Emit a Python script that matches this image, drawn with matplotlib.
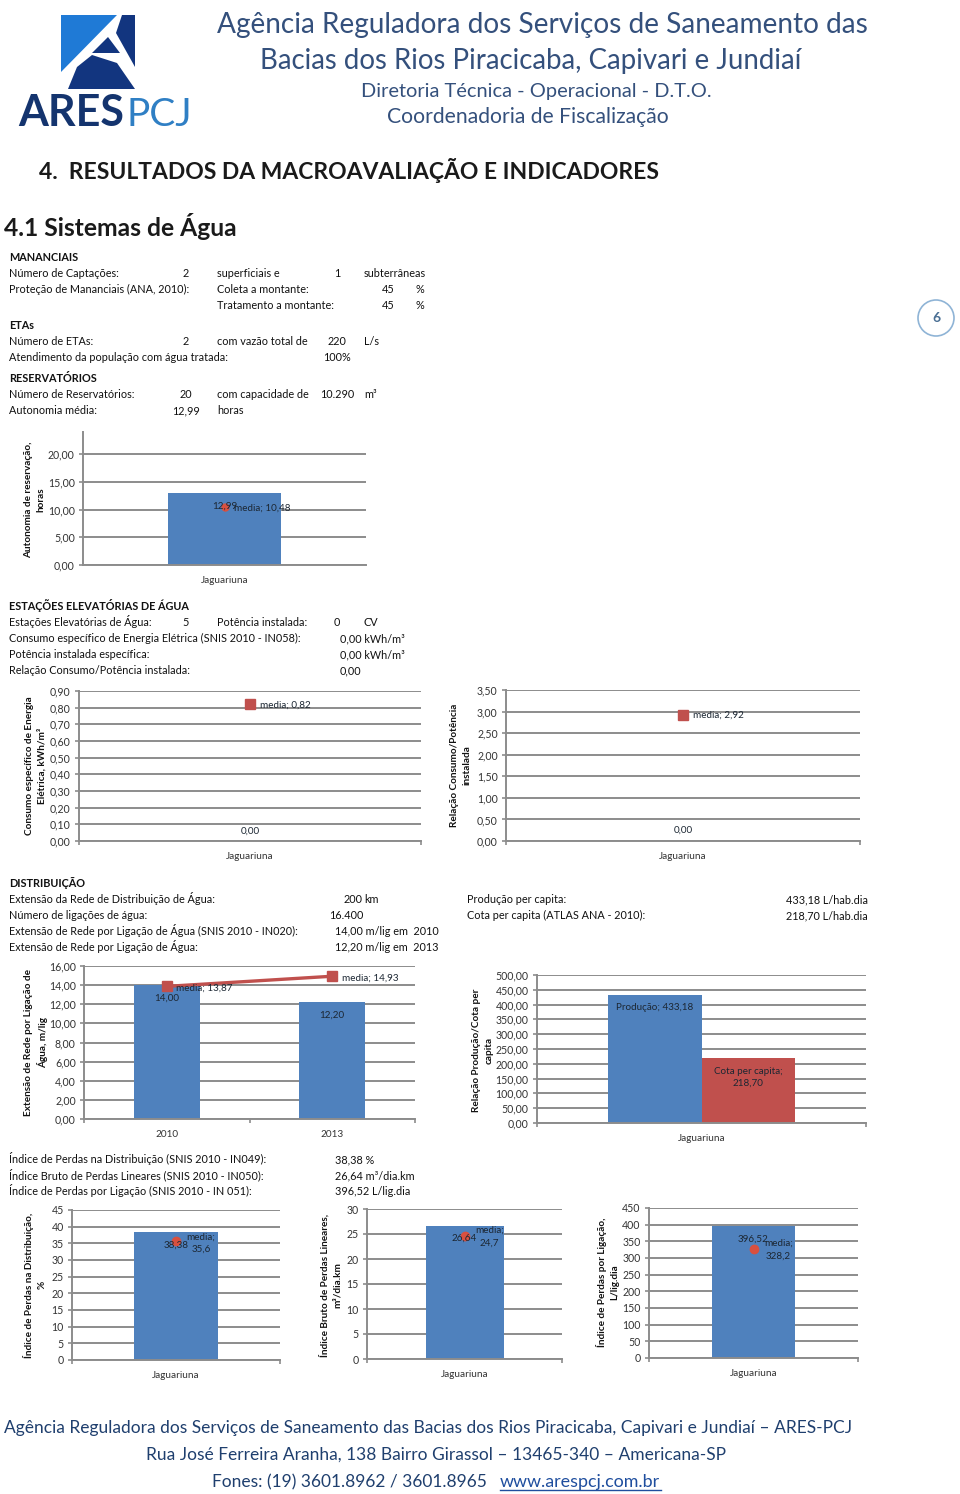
import matplotlib
matplotlib.use('Agg')
import matplotlib.pyplot as plt
from matplotlib.patches import Polygon, Circle

plt.rcParams['font.family'] = ['Lato', 'DejaVu Sans']

W, H = 960, 1494
BLUE = '#4f81bd'
RED = '#c0504d'
GRID = '#8c8c8c'
TICK = '#333333'

# values
autonomia_ticks = [0, 5, 10, 15, 20]
autonomia = [12.99]
autonomia_media = [10.48]

consumo_ticks = [0, .1, .2, .3, .4, .5, .6, .7, .8, .9]
consumo = [0.0]
consumo_media = [0.82]

relacao_ticks = [0, .5, 1, 1.5, 2, 2.5, 3, 3.5]
relacao = [0.0]
relacao_media = [2.92]

extensao_years = ['2010', '2013']
extensao_ticks = [0, 2, 4, 6, 8, 10, 12, 14, 16]
extensao = [14.00, 12.20]
extensao_media = [13.87, 14.93]

producao_ticks = [0, 50, 100, 150, 200, 250, 300, 350, 400, 450, 500]
producao = [433.18]
cota = [218.70]

perdas_dist_ticks = [0, 5, 10, 15, 20, 25, 30, 35, 40, 45]
perdas_dist = [38.38]
perdas_dist_media = [35.6]

perdas_lin_ticks = [0, 5, 10, 15, 20, 25, 30]
perdas_lin = [26.64]
perdas_lin_media = [24.7]

perdas_lig_ticks = [0, 50, 100, 150, 200, 250, 300, 350, 400, 450]
perdas_lig = [396.52]
perdas_lig_media = [328.2]

# text of the report, (x, y, text, align)
bold_rows = [(9, 257, 'MANANCIAIS'), (9, 325, 'ETAs'), (9, 378, 'RESERVATÓRIOS'),
             (9, 606, 'ESTAÇÕES ELEVATÓRIAS DE ÁGUA'), (9, 883, 'DISTRIBUIÇÃO')]
rows = [
    (9, 273, 'Número de Captações:', 'left'), (186, 273, '2', 'center'),
    (217, 273, 'superficiais e', 'left'), (337, 273, '1', 'center'), (364, 273, 'subterrâneas', 'left'),
    (9, 289, 'Proteção de Mananciais (ANA, 2010):', 'left'), (217, 289, 'Coleta a montante:', 'left'),
    (388, 289, '45', 'center'), (415, 289, '%', 'left'),
    (217, 305, 'Tratamento a montante:', 'left'), (388, 305, '45', 'center'), (415, 305, '%', 'left'),
    (9, 341, 'Número de ETAs:', 'left'), (186, 341, '2', 'center'), (217, 341, 'com vazão total de', 'left'),
    (337, 341, '220', 'center'), (364, 341, 'L/s', 'left'),
    (9, 357, 'Atendimento da população com água tratada:', 'left'), (337, 357, '100%', 'center'),
    (9, 394, 'Número de Reservatórios:', 'left'), (186, 394, '20', 'center'),
    (217, 394, 'com capacidade de', 'left'), (337, 394, '10.290', 'center'), (364, 394, 'm³', 'left'),
    (9, 410, 'Autonomia média:', 'left'), (186, 410, '12,99', 'center'), (217, 410, 'horas', 'left'),
    (9, 622, 'Estações Elevatórias de Água:', 'left'), (186, 622, '5', 'center'),
    (217, 622, 'Potência instalada:', 'left'), (337, 622, '0', 'center'), (364, 622, 'CV', 'left'),
    (9, 638, 'Consumo específico de Energia Elétrica (SNIS 2010 - IN058):', 'left'), (340, 638, '0,00 kWh/m³', 'left'),
    (9, 654, 'Potência instalada específica:', 'left'), (340, 654, '0,00 kWh/m³', 'left'),
    (9, 670, 'Relação Consumo/Potência instalada:', 'left'), (340, 670, '0,00', 'left'),
    (9, 899, 'Extensão da Rede de Distribuição de Água:', 'left'), (344, 899, '200', 'left'), (364, 899, 'km', 'left'),
    (9, 915, 'Número de ligações de água:', 'left'), (329, 915, '16.400', 'left'),
    (9, 931, 'Extensão de Rede por Ligação de Água (SNIS 2010 - IN020):', 'left'), (335, 931, '14,00 m/lig em  2010', 'left'),
    (9, 947, 'Extensão de Rede por Ligação de Água:', 'left'), (335, 947, '12,20 m/lig em  2013', 'left'),
    (467, 899, 'Produção per capita:', 'left'), (868, 899, '433,18 L/hab.dia', 'right'),
    (467, 915, 'Cota per capita (ATLAS ANA - 2010):', 'left'), (868, 915, '218,70 L/hab.dia', 'right'),
    (9, 1159, 'Índice de Perdas na Distribuição (SNIS 2010 - IN049):', 'left'), (335, 1159, '38,38 %', 'left'),
    (9, 1175, 'Índice Bruto de Perdas Lineares (SNIS 2010 - IN050):', 'left'), (335, 1175, '26,64 m³/dia.km', 'left'),
    (9, 1191, 'Índice de Perdas por Ligação (SNIS 2010 - IN 051):', 'left'), (335, 1191, '396,52 L/lig.dia', 'left'),
]


def br(v, dec):
    return f'{v:.{dec}f}'.replace('.', ',')


def make_axes(fig, left, right, bottom, top, ymax, ticks, dec, cats, end_ticks=True, xpad=8):
    ax = fig.add_axes([left / W, 1 - bottom / H, (right - left) / W, (bottom - top) / H])
    ax.patch.set_alpha(0)
    ax.set_xlim(-0.5, len(cats) - 0.5)
    ax.set_ylim(0, ymax)
    ax.set_yticks(ticks)
    ax.set_yticklabels([br(t, dec) for t in ticks], fontsize=7.6, color=TICK)
    ax.set_xticks(range(len(cats)))
    ax.set_xticklabels(cats, fontsize=7.2, color=TICK)
    ax.tick_params(axis='x', length=0, pad=xpad)
    ax.tick_params(axis='y', length=3, width=1.2, color=GRID, pad=3)
    if end_ticks:
        ax.set_xticks([i - 0.5 for i in range(len(cats) + 1)], minor=True)
        ax.tick_params(axis='x', which='minor', length=3, width=1.2, color=GRID)
    ax.grid(axis='y', color=GRID, lw=1.4, zorder=0)
    ax.set_axisbelow(True)
    for s in ['top', 'right']:
        ax.spines[s].set_visible(False)
    for s in ['left', 'bottom']:
        ax.spines[s].set_color(GRID)
        ax.spines[s].set_linewidth(1.4)
    return ax


def label(ax, txt, x, y, dx, dy):
    ax.annotate(txt, (x, y), xytext=(dx, -dy), textcoords='offset pixels', ha='center', va='center',
                fontsize=7.1, color='#1c2733', linespacing=1.5, zorder=6, annotation_clip=False)


def main():
    fig = plt.figure(figsize=(W / 100, H / 100), dpi=100)
    page = fig.add_axes([0, 0, 1, 1])
    page.set_xlim(0, W)
    page.set_ylim(H, 0)
    page.axis('off')

    # logo
    page.add_patch(Polygon([(61, 15), (117, 15), (61, 72)], color='#1f7ad6', lw=0))
    page.add_patch(Polygon([(122, 15), (135, 15), (135, 67), (116, 33)], color='#12357f', lw=0))
    page.add_patch(Polygon([(108, 37), (92, 53), (120, 53)], color='#12357f', lw=0))
    page.add_patch(Polygon([(68, 89), (135, 89), (117, 63), (92, 55), (77, 67)], color='#12357f', lw=0))
    page.text(18, 126, 'ARES', fontsize=31, fontweight='bold', color='#14346e', va='baseline', ha='left')
    page.text(126, 126, 'PCJ', fontsize=28, color='#2f7fc4', va='baseline', ha='left')

    # header
    hc = '#34507c'
    page.text(542, 25, 'Agência Reguladora dos Serviços de Saneamento das', fontsize=20.2, color=hc, ha='center', va='center')
    page.text(531, 61, 'Bacias dos Rios Piracicaba, Capivari e Jundiaí', fontsize=19.9, color=hc, ha='center', va='center')
    page.text(536, 92, 'Diretoria Técnica - Operacional - D.T.O.', fontsize=14.4, color=hc, ha='center', va='center')
    page.text(528, 117, 'Coordenadoria de Fiscalização', fontsize=15.2, color=hc, ha='center', va='center')

    page.text(39, 179, '4.  RESULTADOS DA MACROAVALIAÇÃO E INDICADORES', fontsize=16.5, fontweight='bold', color='#1a1a1a')
    page.text(4, 236, '4.1 Sistemas de Água', fontsize=17.7, fontweight='bold', color='#1a1a1a')

    for x, y, t in bold_rows:
        page.text(x, y + 4, t, fontsize=7.8, fontweight='bold', color='#111111')
    for x, y, t, al in rows:
        page.text(x, y + 4, t, fontsize=7.8, color='#111111', ha=al)

    # page badge
    page.add_patch(Circle((936, 318), 18, fc='white', ec='#8fb4d6', lw=1.2))
    page.text(936, 318, '6', fontsize=10, fontweight='bold', color='#4a6f94', ha='center', va='center')

    # y axis titles
    ytitles = [
        (34.5, 500, 'Autonomia de reservação,\nhoras'),
        (35.5, 766, 'Consumo específico de Energia\nElétrica, kWh/m³'),
        (461, 765, 'Relação Consumo/Potência\ninstalada'),
        (36, 1043, 'Extensão de Rede por Ligação de\nÁgua, m/lig'),
        (483, 1050, 'Relação Produção/Cota per\ncapita'),
        (35, 1285, 'Índice de Perdas na Distribuição,\n%'),
        (331, 1285, 'Índice Bruto de Perdas Lineares,\nm³/dia.km'),
        (608, 1282, 'Índice de Perdas por Ligação,\nL/lig.dia'),
    ]
    for x, y, t in ytitles:
        page.text(x, y, t, rotation=90, fontsize=7.2, fontweight='bold', color='#111111',
                  ha='center', va='center', multialignment='center', linespacing=1.45)

    jag = ['Jaguariuna']

    # autonomia
    ax = make_axes(fig, 83, 366, 565, 432, 24, autonomia_ticks, 2, jag, end_ticks=False)
    ax.bar(jag, autonomia, width=0.4, color=BLUE, zorder=2)
    ax.plot(jag, autonomia_media, 'o', color='#d9503f', ms=5, zorder=4)
    label(ax, br(autonomia[0], 2), 0, autonomia[0], 0, 13)
    label(ax, 'media; ' + br(autonomia_media[0], 2), 0, autonomia_media[0], 38, 1)

    # consumo especifico
    ax = make_axes(fig, 79, 421, 841, 691, 0.9, consumo_ticks, 2, jag)
    ax.plot(jag, consumo_media, 's', color=RED, ms=6.5, zorder=4)
    label(ax, br(consumo[0], 2), 0, consumo[0], 0, -10)
    label(ax, 'media; ' + br(consumo_media[0], 2), 0, consumo_media[0], 35, 1)

    # relacao consumo/potencia
    ax = make_axes(fig, 506, 860, 841, 690, 3.5, relacao_ticks, 2, jag)
    ax.plot(jag, relacao_media, 's', color=RED, ms=6.5, zorder=4)
    label(ax, br(relacao[0], 2), 0, relacao[0], 0, -11)
    label(ax, 'media; ' + br(relacao_media[0], 2), 0, relacao_media[0], 35, 0)

    # extensao de rede
    ax = make_axes(fig, 84, 415, 1119, 966, 16, extensao_ticks, 2, extensao_years)
    ax.bar(extensao_years, extensao, width=0.4, color=BLUE, zorder=2)
    ax.plot(extensao_years, extensao_media, '-s', color=RED, lw=2.4, ms=6.5, zorder=4)
    for i in range(2):
        label(ax, br(extensao[i], 2), i, extensao[i], 0, 13)
        label(ax, 'media; ' + br(extensao_media[i], 2), i, extensao_media[i], 38, 2)

    # producao / cota
    ax = make_axes(fig, 537, 866, 1123, 975, 500, producao_ticks, 2, jag)
    ax.bar([-0.1425], producao, width=0.285, color=BLUE, zorder=2)
    ax.bar([0.1425], cota, width=0.285, color=RED, zorder=2)
    label(ax, 'Produção; ' + br(producao[0], 2), -0.1425, producao[0], 0, 13)
    label(ax, 'Cota per capita;\n' + br(cota[0], 2), 0.1425, cota[0], 0, 19)

    # perdas
    ax = make_axes(fig, 72, 280, 1360, 1210, 45, perdas_dist_ticks, 0, jag)
    ax.bar(jag, perdas_dist, width=0.4, color=BLUE, zorder=2)
    ax.plot(jag, perdas_dist_media, 'o', color='#d9503f', ms=6, zorder=4)
    label(ax, br(perdas_dist[0], 2), 0, perdas_dist[0], 0, 13)
    label(ax, 'media;\n' + br(perdas_dist_media[0], 1), 0, perdas_dist_media[0], 25, 2)

    ax = make_axes(fig, 367, 562, 1359, 1209, 30, perdas_lin_ticks, 0, jag)
    ax.bar(jag, perdas_lin, width=0.4, color=BLUE, zorder=2)
    ax.plot(jag, perdas_lin_media, 'o', color='#d9503f', ms=6, zorder=4)
    label(ax, br(perdas_lin[0], 2), 0, perdas_lin[0], 0, 12)
    label(ax, 'media;\n' + br(perdas_lin_media[0], 1), 0, perdas_lin_media[0], 25, 1)

    ax = make_axes(fig, 649, 858, 1358, 1208, 450, perdas_lig_ticks, 0, jag)
    ax.bar(jag, perdas_lig, width=0.4, color=BLUE, zorder=2)
    ax.plot(jag, perdas_lig_media, 'o', color='#d9503f', ms=6, zorder=4)
    label(ax, br(perdas_lig[0], 2), 0, perdas_lig[0], 0, 13)
    label(ax, 'media;\n' + br(perdas_lig_media[0], 1), 0, perdas_lig_media[0], 25, 1)

    # footer
    fc = '#1f3f6e'
    page.text(428, 1433, 'Agência Reguladora dos Serviços de Saneamento das Bacias dos Rios Piracicaba, Capivari e Jundiaí – ARES-PCJ',
              fontsize=12.5, color=fc, ha='center')
    page.text(436, 1460, 'Rua José Ferreira Aranha, 138 Bairro Girassol – 13465-340 – Americana-SP',
              fontsize=12.5, color=fc, ha='center')
    page.text(212, 1487, 'Fones: (19) 3601.8962 / 3601.8965', fontsize=12.5, color=fc, ha='left')
    page.text(500, 1487, 'www.arespcj.com.br', fontsize=12.9, color='#1f4e9e', ha='left')
    page.plot([500, 661], [1490, 1490], color='#1f4e9e', lw=1)

    fig.savefig('out.png', dpi=100)


if __name__ == '__main__':
    main()
